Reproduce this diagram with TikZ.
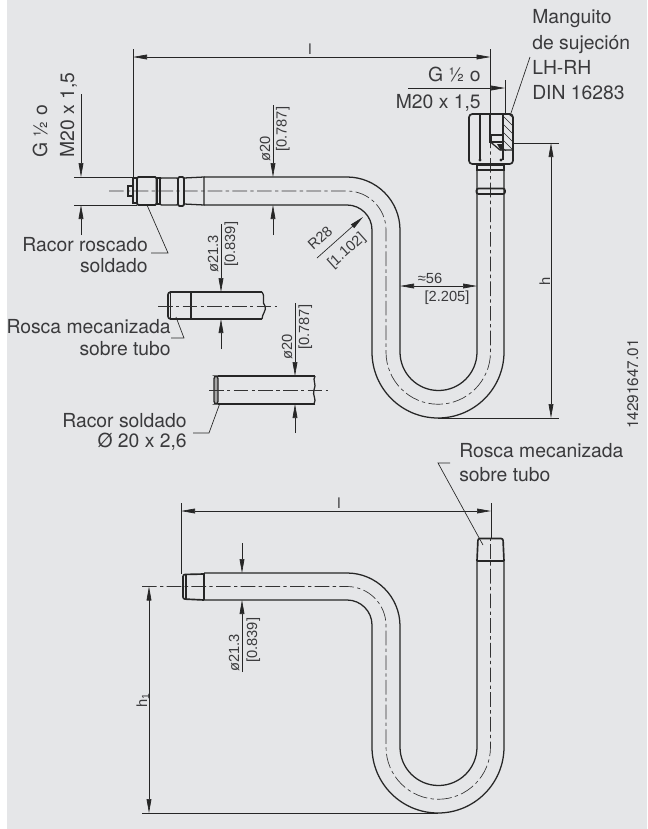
\documentclass[tikz,border=0pt]{standalone}
\usepackage{fontspec}
\setmainfont{TeX Gyre Heros}
\newfontfamily\dimf{Liberation Sans}
\usetikzlibrary{arrows.meta}
\definecolor{bgc}{HTML}{E5E6E8}
\definecolor{txc}{HTML}{3A3A3C}
\newcommand{\dimtxt}[1]{{\dimf\fontsize{11}{11}\selectfont #1}}
\tikzset{
  x=0.75pt,y=-0.75pt,
  pipe/.style={line width=.95pt,black!85},
  thick pipe/.style={line width=1.25pt,black!85},
  centre/.style={line width=.5pt,black!80,dash pattern=on 11pt off 2.5pt on 2.5pt off 2.5pt},
  dimline/.style={line width=.5pt,black!85},
  arr/.style={-{Triangle[length=10.5pt,width=3.6pt]}},
  arrboth/.style={{Triangle[length=10.5pt,width=3.6pt]}-{Triangle[length=10.5pt,width=3.6pt]}},
  lab/.style={font=\fontsize{14.5}{14.5}\selectfont,text=txc,inner sep=0pt},
  labr/.style={lab,anchor=base east},
  labl/.style={lab,anchor=base west},
  dimt/.style={inner sep=0pt,text=txc},
  dimv/.style={dimt,rotate=90,anchor=base west},
}
\begin{document}
\begin{tikzpicture}
\useasboundingbox (0,0) rectangle (647,829);
\fill[white] (0,0) rectangle (647,829);
\fill[bgc] (7,0) rectangle (647,829);
% ---- upper pipe
\draw[pipe] (204,177) -- (347,177) arc[start angle=-90,end angle=0,radius=53] -- (400,352)
  arc[start angle=180,end angle=0,radius=38.5] -- (477,165);
\draw[pipe] (204,205) -- (347,205) arc[start angle=-90,end angle=0,radius=25] -- (372,352)
  arc[start angle=180,end angle=0,radius=66] -- (504,165);
\draw[centre] (109,191) -- (347,191) arc[start angle=-90,end angle=0,radius=39] -- (386,352)
  arc[start angle=180,end angle=0,radius=52.25] -- (490.5,114);
% left fitting
\draw[pipe] (128,186) rectangle (133,196);
\draw[pipe] (133,178) -- (137,178) (133,178) -- (133,203) -- (137,203);
\draw[thick pipe,rounded corners=1pt] (137,177) rectangle (156.5,205);
\draw[pipe] (157,178) rectangle (160,204);
\draw[pipe,rounded corners=1pt] (160,178) -- (178,178) -- (178,205) -- (160,205) -- cycle;
\draw[thick pipe,rounded corners=1pt] (178,177) rectangle (184,206);
\draw[pipe] (184,178) -- (204,177) -- (204,205) -- (184,204);
% nut
\draw[thick pipe,rounded corners=2.5pt] (469,114) rectangle (513,164);
\draw[pipe] (480,114) -- (480,160) (503,114) -- (503,136) (490,114) -- (490,135);
\draw[line width=1.6pt,black!85] (490.5,135) rectangle (503,142);
\draw[pipe] (490.5,142) -- (500,150) -- (513,150);
\draw[pipe] (503,142) -- (503,160);
\fill[black!85] (497,144) -- (504,144) -- (501,151) -- cycle;
\fill[black!85] (480,160) circle[radius=1.6] (501,160) circle[radius=1.6];
\begin{scope}
\clip (503,114) rectangle (513,150);
\foreach \k in {0,8,...,48}{\draw[line width=.45pt,black!85] (503,108+\k) -- (513,118+\k);}
\end{scope}
\draw[pipe] (477,165) rectangle (504,170);
\draw[thick pipe,rounded corners=1.5pt] (476.5,188.5) rectangle (505,194);
% dimension l
\coordinate (lA) at (133,57); \coordinate (lB) at (490.5,57);
\draw[dimline] (133,49) -- (133,178);
\draw[dimline] (490.5,49) -- (490.5,114);
\draw[dimline,arrboth] (lA) -- (lB);
\node[dimt] (l1) at (310,49) {\dimtxt{l}};
% M20 right
\coordinate (mA) at (408,88); \coordinate (mB) at (505,88);
\draw[dimline,arr] (mA) -- (mB);
\draw[dimline] (505,80) -- (505,114);
\node[labr] (g1) at (481,81) {G ½ o};
\node[labr] (g2) at (481,108) {M20 x 1,5};
% manguito
\node[labl] (m1) at (532,23) {Manguito};
\node[labl] (m2) at (532,49) {de sujeción};
\node[labl] (m3) at (532,74) {LH-RH};
\node[labl] (m4) at (532,99) {DIN 16283};
\coordinate (mL) at (530,57); \coordinate (mT) at (510,116);
\draw[dimline] (mL) -- (mT);
% h
\coordinate (hT) at (551,143); \coordinate (hB) at (551,418);
\draw[dimline] (512,143) -- (559,143);
\draw[dimline] (438,418) -- (559,418);
\draw[dimline,arrboth] (hT) -- (hB);
\node[dimt,rotate=90,anchor=base] (h1) at (550,281) {\dimtxt{h}};
% left dim M20
\draw[dimline] (74,177) -- (137,177) (74,205) -- (137,205);
\coordinate (nA) at (81,94); \coordinate (nB) at (81,177);
\coordinate (nC) at (81,235); \coordinate (nD) at (81,205);
\draw[dimline,arr] (nA) -- (nB);
\draw[dimline,arr] (nC) -- (nD);
\node[labl,rotate=90] (g3) at (47,158) {G ½ o};
\node[labl,rotate=90] (g4) at (74,158) {M20 x 1,5};
% dia 20 top
\coordinate (pA) at (273,105); \coordinate (pB) at (273,177);
\coordinate (pC) at (273,235); \coordinate (pD) at (273,205);
\draw[dimline,arr] (pA) -- (pB);
\draw[dimline,arr] (pC) -- (pD);
\node[dimv] (d1) at (270,162) {\dimtxt{ø20}};
\node[dimv] (d2) at (286.5,152) {\dimtxt{[0.787]}};
% racor roscado
\node[labr] (r1) at (148,251) {Racor roscado};
\node[labr] (r2) at (148,272) {soldado};
\coordinate (rA) at (147,205); \coordinate (rB) at (168,253); \coordinate (rC) at (151,253);
\draw[dimline] (rA) -- (rB) -- (rC);
% R28
\coordinate (Rs) at (317,258); \coordinate (Re) at (363,217);
\draw[dimline,arr] (Rs) -- (Re);
\node[dimt,rotate=42] (R1) at (320,238) {\dimtxt{R28}};
\node[dimt,rotate=42] (R2) at (347,251) {\dimtxt{[1.102]}};
% 56
\coordinate (a56) at (400,286); \coordinate (b56) at (477,286);
\draw[dimline,arrboth] (a56) -- (b56);
\node[dimt,anchor=base] (t56) at (430,283) {\dimtxt{≈56}};
\node[dimt,anchor=base] (t57) at (447,301) {\dimtxt{[2.205]}};
% ---- detail 1
\draw[pipe] (262,292) -- (170,292) (262,319) -- (170,319);
\draw[thick pipe,rounded corners=2pt] (191,292) -- (168,292) -- (168,319) -- (191,319);
\draw[pipe] (170.5,292) -- (170.5,319);
\draw[pipe] (191,292) -- (191,319);
\draw[pipe] (262,292) .. controls (266,298) and (261,302) .. (265,306) .. controls (267,310) and (262,314) .. (262,319);
\draw[centre] (158,306) -- (277,306);
\coordinate (qA) at (221,224); \coordinate (qB) at (221,292);
\coordinate (qC) at (221,349); \coordinate (qD) at (221,319);
\draw[dimline,arr] (qA) -- (qB);
\draw[dimline,arr] (qC) -- (qD);
\node[dimv] (d3) at (218,273) {\dimtxt{ø21.3}};
\node[dimv] (d4) at (235,267) {\dimtxt{[0.839]}};
\node[labr] (s1) at (171,333) {Rosca mecanizada};
\node[labr] (s2) at (171,355) {sobre tubo};
\coordinate (sA) at (176,317); \coordinate (sB) at (184,338); \coordinate (sC) at (171,338);
\draw[dimline] (sA) -- (sB) -- (sC);
% ---- detail 2
\draw[pipe] (315,376) -- (218,376) (315,404) -- (218,404);
\draw[pipe,rounded corners=2pt,fill=black!35] (218,376) -- (214,376) -- (214,404) -- (218,404) -- cycle;
\draw[pipe] (315,376) .. controls (312,380) and (317,384) .. (314,390) .. controls (312,395) and (317,399) .. (314,404);
\draw[centre] (209,390) -- (328,390);
\coordinate (uA) at (295,303); \coordinate (uB) at (295,376);
\coordinate (uC) at (295,433); \coordinate (uD) at (295,404);
\draw[dimline,arr] (uA) -- (uB);
\draw[dimline,arr] (uC) -- (uD);
\node[dimv] (d5) at (292,360) {\dimtxt{ø20}};
\node[dimv] (d6) at (309,350) {\dimtxt{[0.787]}};
\node[labr] (k1) at (187,427) {Racor soldado};
\node[labr] (k2) at (187,447) {Ø 20 x 2,6};
\coordinate (kA) at (220,403); \coordinate (kB) at (209,433); \coordinate (kC) at (193,433);
\draw[dimline] (kA) -- (kB) -- (kC);
% number
\node[lab,font=\fontsize{11.5}{11.5}\selectfont,rotate=90,anchor=base west] (num) at (638,429) {14291647.01};
% ---- lower pipe
\draw[pipe] (204,573) -- (347,573) arc[start angle=-90,end angle=0,radius=53] -- (400,747)
  arc[start angle=180,end angle=0,radius=38.5] -- (477,561);
\draw[pipe] (204,600) -- (347,600) arc[start angle=-90,end angle=0,radius=25] -- (372,747)
  arc[start angle=180,end angle=0,radius=66] -- (504,561);
\draw[centre] (142,586.5) -- (347,586.5) arc[start angle=-90,end angle=0,radius=39] -- (386,747)
  arc[start angle=180,end angle=0,radius=52.25] -- (490.5,538);
\draw[pipe] (204,573) -- (204,600);
\draw[thick pipe,rounded corners=1.5pt] (204,574) -- (183,574.5) -- (183,599) -- (204,600);
\draw[pipe] (186,574) -- (186,600);
\draw[pipe] (477,561) -- (504,561);
\draw[thick pipe,rounded corners=1.5pt] (477,561) -- (478,538.5) -- (503,538.5) -- (504,561);
% lower dims
\draw[dimline] (181,503) -- (181,574);
\draw[dimline] (491,503) -- (491,538);
\coordinate (vA) at (181,511); \coordinate (vB) at (491,511);
\draw[dimline,arrboth] (vA) -- (vB);
\node[dimt] (l2) at (339,503) {\dimtxt{l}};
\coordinate (wA) at (242,543); \coordinate (wB) at (242,573);
\coordinate (wC) at (242,672); \coordinate (wD) at (242,600);
\draw[dimline,arr] (wA) -- (wB);
\draw[dimline,arr] (wC) -- (wD);
\node[dimv] (d7) at (239,672) {\dimtxt{ø21.3}};
\node[dimv] (d8) at (257,663) {\dimtxt{[0.839]}};
\coordinate (yA) at (149,586.5); \coordinate (yB) at (149,813);
\draw[dimline,arrboth] (yA) -- (yB);
\draw[dimline] (142,813) -- (438,813);
\node[dimt,rotate=90,anchor=base] (h2) at (147,700) {\dimtxt{h\textsubscript{1}}};
\node[labl] (o1) at (459,457) {Rosca mecanizada};
\node[labl] (o2) at (459,481) {sobre tubo};
\coordinate (oA) at (450,463); \coordinate (oB) at (438,463); \coordinate (oC) at (483,545);
\draw[dimline] (oA) -- (oB) -- (oC);
\end{tikzpicture}
\end{document}
